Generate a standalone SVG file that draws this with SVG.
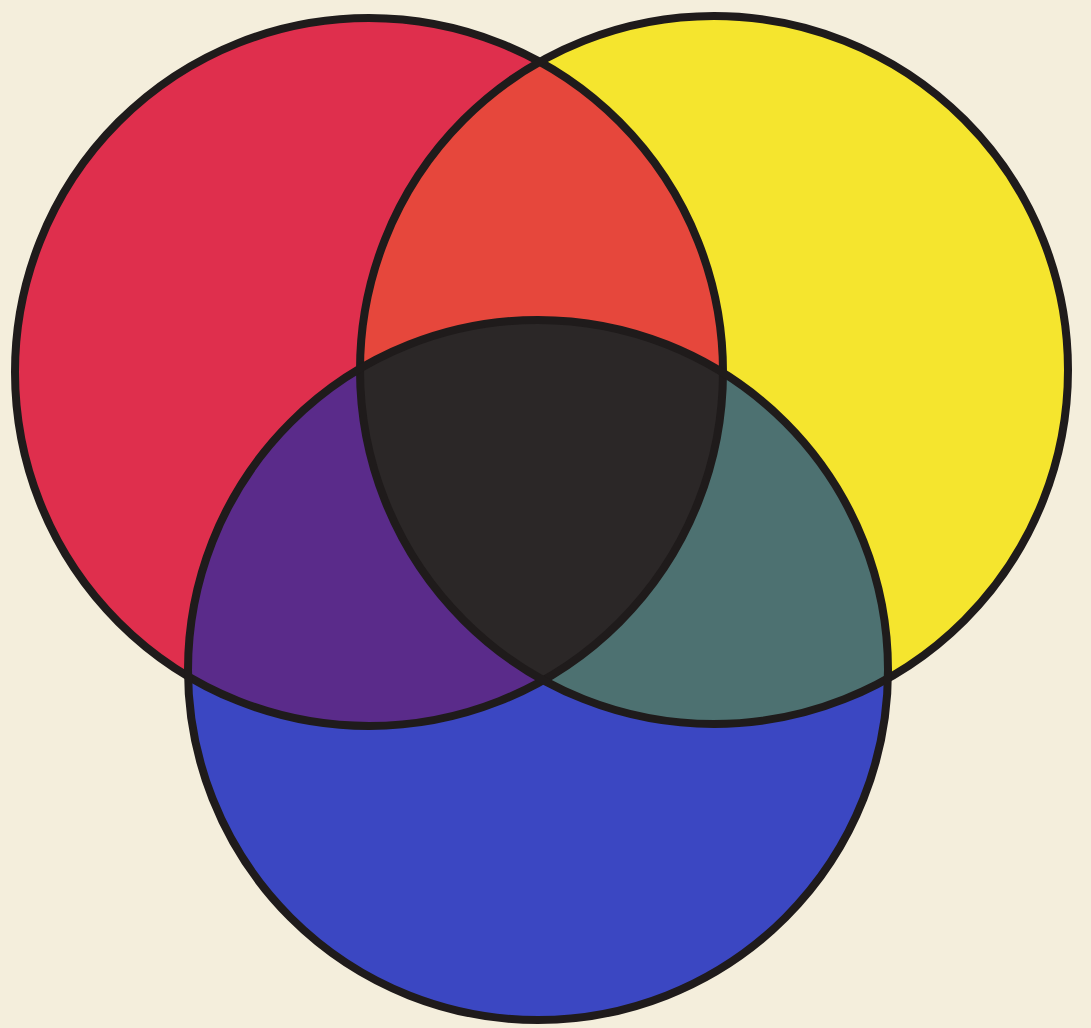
<svg xmlns="http://www.w3.org/2000/svg" width="1091" height="1028" viewBox="0 0 1091 1028">
<style>
.ring{fill:none;stroke:#1f1b1b;stroke-width:8}
</style>
<defs>
<circle id="cr" cx="369" cy="372" r="354"/>
<circle id="cy" cx="714" cy="370" r="354"/>
<circle id="cb" cx="538" cy="670" r="350"/>
<clipPath id="clipR"><use href="#cr"/></clipPath>
<clipPath id="clipY"><use href="#cy"/></clipPath>
<clipPath id="clipB"><use href="#cb"/></clipPath>
</defs>
<rect width="1091" height="1028" fill="#f4eedc"/>
<g id="red"><use href="#cr" fill="#df2f4d"/></g>
<g id="yellow"><use href="#cy" fill="#f5e52e"/></g>
<g id="blue"><use href="#cb" fill="#3b47c2"/></g>
<g id="red-yellow" clip-path="url(#clipR)"><use href="#cy" fill="#e6473c"/></g>
<g id="red-blue" clip-path="url(#clipR)"><use href="#cb" fill="#5a2b8a"/></g>
<g id="yellow-blue" clip-path="url(#clipY)"><use href="#cb" fill="#4d7171"/></g>
<g id="center" clip-path="url(#clipR)"><g clip-path="url(#clipY)"><use href="#cb" fill="#2b2727"/></g></g>
<g id="outlines">
<use href="#cr" class="ring"/>
<use href="#cy" class="ring"/>
<use href="#cb" class="ring"/>
</g>
</svg>
